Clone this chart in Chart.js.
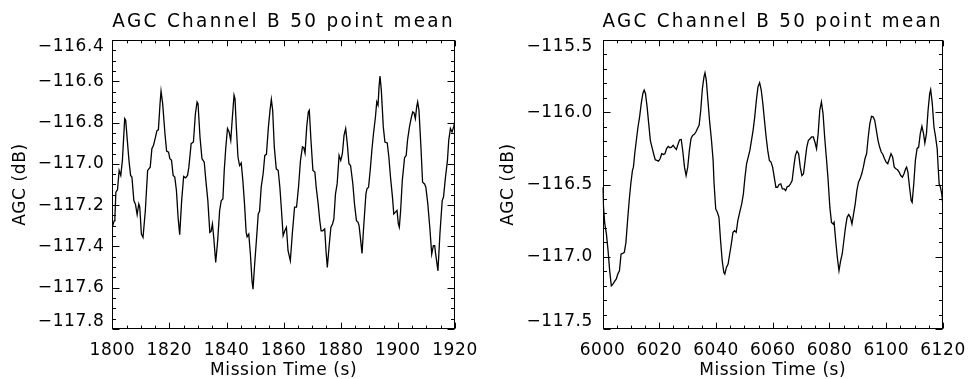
<!DOCTYPE html>
<html>
<head>
<meta charset="utf-8">
<script src="https://cdn.jsdelivr.net/npm/chart.js@4.4.1/dist/chart.umd.min.js"></script>
<style>
  html, body { margin: 0; padding: 0; background: #fff; }
  .wrap { display: flex; width: 976px; height: 379px; }
  .panel { width: 488px; height: 379px; }
</style>
</head>
<body>
<div class="wrap">
  <div class="panel"><canvas id="left" width="488" height="379"></canvas></div>
  <div class="panel"><canvas id="right" width="488" height="379"></canvas></div>
</div>
<script>
// left panel: 1800-1920 s
const leftTime = [
  1800.00, 1800.68, 1800.91, 1801.25, 1801.82, 1802.40, 1802.97, 1803.54, 1804.34, 1804.69,
  1805.26, 1805.83, 1806.41, 1806.87, 1807.55, 1808.13, 1808.70, 1809.27, 1809.62, 1810.19,
  1810.76, 1811.57, 1812.37, 1813.28, 1813.86, 1814.43, 1815.00, 1815.58, 1816.15, 1816.72,
  1817.07, 1817.64, 1818.44, 1819.02, 1819.70, 1820.16, 1820.74, 1821.31, 1821.88, 1822.46,
  1823.03, 1823.60, 1824.29, 1824.98, 1825.66, 1826.35, 1826.81, 1827.61, 1828.41, 1829.10,
  1829.68, 1830.02, 1830.71, 1831.40, 1832.20, 1832.77, 1833.46, 1834.15, 1834.60, 1835.06,
  1835.52, 1836.21, 1836.90, 1837.59, 1838.16, 1838.73, 1839.20, 1839.76, 1840.34, 1840.91,
  1841.48, 1842.06, 1842.63, 1842.97, 1843.43, 1844.01, 1844.58, 1845.15, 1845.72, 1846.30,
  1846.87, 1847.21, 1847.79, 1848.36, 1848.93, 1849.28, 1849.85, 1850.54, 1851.11, 1851.57,
  1852.14, 1852.83, 1853.40, 1853.98, 1854.67, 1855.24, 1855.70, 1856.16, 1856.73, 1857.42,
  1858.10, 1858.68, 1859.25, 1859.82, 1860.40, 1860.97, 1861.54, 1862.35, 1863.03, 1863.83,
  1864.52, 1865.21, 1865.90, 1866.59, 1867.05, 1867.50, 1868.08, 1868.65, 1868.99, 1869.57,
  1870.25, 1870.94, 1871.40, 1872.09, 1872.66, 1873.12, 1873.69, 1874.38, 1874.84, 1875.30,
  1875.99, 1876.56, 1877.13, 1877.59, 1878.16, 1878.74, 1879.42, 1880.00, 1880.57, 1881.15,
  1881.72, 1882.29, 1882.86, 1883.44, 1884.24, 1884.81, 1885.50, 1886.07, 1886.42, 1886.87,
  1887.45, 1888.02, 1888.82, 1889.17, 1889.74, 1890.31, 1890.89, 1891.46, 1892.15, 1892.61,
  1893.06, 1893.41, 1893.75, 1894.21, 1894.90, 1895.47, 1896.28, 1896.85, 1897.42, 1898.11,
  1898.57, 1899.14, 1899.71, 1900.17, 1900.52, 1900.97, 1901.55, 1902.35, 1902.92, 1903.38,
  1904.07, 1904.76, 1905.22, 1905.67, 1906.13, 1906.59, 1906.94, 1907.39, 1908.08, 1908.66,
  1909.34, 1909.80, 1910.49, 1911.18, 1911.86, 1912.44, 1912.90, 1913.24, 1914.04, 1914.73,
  1915.53, 1915.99, 1916.68, 1917.37, 1917.82, 1918.40, 1918.97, 1919.54, 1919.89
];
const leftAgc = [
  -117.308, -117.275, -117.259, -117.137, -117.126, -117.032, -117.056, -116.983, -116.781, -116.789,
  -116.886, -116.983, -117.056, -117.064, -117.178, -117.197, -117.246, -117.194, -117.210, -117.340,
  -117.356, -117.226, -117.032, -117.016, -116.927, -116.910, -116.878, -116.841, -116.834, -116.708,
  -116.648, -116.708, -116.854, -116.938, -116.943, -116.975, -116.983, -117.056, -117.064, -117.129,
  -117.259, -117.343, -117.178, -117.061, -117.068, -117.056, -117.016, -116.902, -116.894, -116.757,
  -116.700, -116.708, -116.870, -116.975, -116.992, -117.081, -117.178, -117.332, -117.327, -117.291,
  -117.356, -117.478, -117.372, -117.226, -117.178, -117.170, -117.032, -116.918, -116.829, -116.846,
  -116.886, -116.773, -116.667, -116.684, -116.821, -116.967, -117.008, -116.996, -117.081, -117.194,
  -117.332, -117.353, -117.340, -117.437, -117.567, -117.607, -117.486, -117.356, -117.243, -117.230,
  -117.113, -117.048, -116.959, -116.954, -116.821, -116.740, -116.688, -116.740, -116.918, -117.024,
  -117.032, -117.113, -117.226, -117.348, -117.324, -117.307, -117.421, -117.469, -117.340, -117.210,
  -117.210, -117.113, -116.983, -116.918, -116.922, -116.948, -116.821, -116.748, -116.740, -116.886,
  -117.032, -117.040, -117.113, -117.194, -117.275, -117.324, -117.324, -117.315, -117.421, -117.502,
  -117.388, -117.307, -117.291, -117.267, -117.145, -117.097, -116.959, -116.983, -116.951, -116.862,
  -116.829, -116.902, -116.999, -117.008, -117.097, -117.194, -117.275, -117.283, -117.299, -117.356,
  -117.434, -117.307, -117.145, -117.121, -117.113, -117.032, -116.935, -116.854, -116.773, -116.700,
  -116.716, -116.627, -116.575, -116.643, -116.821, -116.894, -116.899, -116.967, -117.064, -117.161,
  -117.243, -117.234, -117.226, -117.291, -117.307, -117.226, -117.081, -116.970, -116.959, -116.886,
  -116.821, -116.773, -116.748, -116.753, -116.781, -116.724, -116.700, -116.740, -116.918, -117.089,
  -117.097, -117.113, -117.194, -117.307, -117.437, -117.396, -117.396, -117.437, -117.518, -117.340,
  -117.178, -117.161, -117.064, -116.983, -116.886, -116.829, -116.846, -116.821, -116.797
];

// right panel: 6000-6120 s
const rightTime = [
  6000.00, 6000.36, 6000.81, 6001.39, 6001.96, 6002.53, 6003.11, 6003.68, 6004.25, 6004.83,
  6005.40, 6005.97, 6006.55, 6007.12, 6007.69, 6008.26, 6008.84, 6009.41, 6009.98, 6010.56,
  6010.90, 6011.36, 6011.93, 6012.51, 6013.08, 6013.65, 6014.23, 6014.68, 6015.14, 6015.72,
  6016.29, 6016.86, 6017.43, 6018.01, 6018.58, 6019.15, 6019.73, 6020.30, 6020.87, 6021.45,
  6022.02, 6022.59, 6023.17, 6023.74, 6024.31, 6024.89, 6025.46, 6026.03, 6026.61, 6027.18,
  6027.75, 6028.33, 6028.90, 6029.47, 6030.04, 6030.62, 6031.19, 6031.76, 6032.34, 6032.91,
  6033.48, 6034.05, 6034.63, 6035.20, 6035.77, 6036.12, 6036.58, 6037.15, 6037.72, 6038.41,
  6038.99, 6039.33, 6039.90, 6040.48, 6041.05, 6041.62, 6042.19, 6042.77, 6043.11, 6043.68,
  6044.26, 6044.83, 6045.40, 6045.98, 6046.55, 6047.12, 6047.70, 6048.50, 6049.07, 6049.65,
  6050.22, 6050.79, 6051.36, 6051.94, 6052.51, 6053.08, 6053.66, 6054.23, 6054.80, 6055.38,
  6055.95, 6056.52, 6057.09, 6057.67, 6058.24, 6058.81, 6059.39, 6059.96, 6060.53, 6061.11,
  6061.68, 6062.25, 6062.83, 6063.40, 6063.97, 6064.55, 6065.12, 6065.69, 6066.27, 6066.84,
  6067.41, 6067.98, 6068.56, 6069.13, 6069.70, 6070.28, 6070.85, 6071.42, 6072.00, 6072.57,
  6073.14, 6073.72, 6074.29, 6074.86, 6075.44, 6076.01, 6076.58, 6077.16, 6077.73, 6078.30,
  6078.88, 6079.45, 6080.13, 6080.71, 6081.28, 6081.63, 6082.20, 6082.77, 6083.35, 6083.92,
  6084.49, 6085.06, 6085.64, 6086.21, 6086.78, 6087.36, 6087.93, 6088.50, 6089.08, 6089.65,
  6090.22, 6090.79, 6091.37, 6091.94, 6092.51, 6093.09, 6093.66, 6094.23, 6094.81, 6095.38,
  6095.95, 6096.53, 6097.10, 6097.67, 6098.25, 6098.82, 6099.39, 6099.97, 6100.54, 6101.11,
  6101.68, 6102.26, 6102.83, 6103.40, 6103.98, 6104.55, 6105.12, 6105.70, 6106.27, 6106.84,
  6107.19, 6107.64, 6108.22, 6108.79, 6109.14, 6109.71, 6110.28, 6110.86, 6111.43, 6112.00,
  6112.58, 6113.15, 6113.61, 6114.18, 6114.75, 6115.33, 6115.67, 6116.24, 6116.82, 6117.39,
  6117.96, 6118.31, 6118.65, 6119.11, 6119.57, 6120.00
];
const rightAgc = [
  -116.519, -116.657, -116.773, -116.843, -116.958, -117.097, -117.201, -117.190, -117.171, -117.155,
  -117.120, -117.097, -116.981, -116.977, -116.970, -116.900, -116.750, -116.611, -116.495, -116.403,
  -116.380, -116.287, -116.194, -116.102, -116.032, -115.940, -115.870, -115.847, -115.870, -115.963,
  -116.079, -116.194, -116.241, -116.287, -116.329, -116.333, -116.338, -116.322, -116.287, -116.292,
  -116.287, -116.252, -116.236, -116.245, -116.241, -116.229, -116.245, -116.257, -116.222, -116.190,
  -116.188, -116.275, -116.380, -116.438, -116.380, -116.264, -116.183, -116.160, -116.153, -116.137,
  -116.113, -116.090, -115.986, -115.836, -115.755, -115.727, -115.778, -115.917, -116.056, -116.194,
  -116.333, -116.495, -116.669, -116.692, -116.727, -116.889, -117.028, -117.109, -117.120, -117.074,
  -117.051, -116.981, -116.912, -116.831, -116.819, -116.831, -116.750, -116.681, -116.634, -116.565,
  -116.449, -116.356, -116.310, -116.264, -116.194, -116.125, -116.032, -115.917, -115.824, -115.796,
  -115.847, -115.940, -116.056, -116.171, -116.264, -116.333, -116.345, -116.380, -116.449, -116.519,
  -116.519, -116.500, -116.495, -116.530, -116.530, -116.542, -116.514, -116.512, -116.495, -116.472,
  -116.380, -116.299, -116.269, -116.287, -116.380, -116.438, -116.426, -116.333, -116.241, -116.194,
  -116.183, -116.171, -116.171, -116.206, -116.252, -116.148, -115.986, -115.928, -116.009, -116.171,
  -116.310, -116.449, -116.657, -116.762, -116.773, -116.762, -116.889, -117.005, -117.097, -117.028,
  -116.981, -116.889, -116.796, -116.727, -116.708, -116.727, -116.773, -116.704, -116.634, -116.542,
  -116.484, -116.461, -116.426, -116.380, -116.322, -116.287, -116.171, -116.079, -116.028, -116.032,
  -116.056, -116.125, -116.194, -116.241, -116.275, -116.292, -116.322, -116.345, -116.356, -116.322,
  -116.287, -116.310, -116.380, -116.391, -116.398, -116.414, -116.438, -116.449, -116.426, -116.391,
  -116.380, -116.414, -116.519, -116.611, -116.623, -116.495, -116.333, -116.252, -116.241, -116.148,
  -116.097, -116.148, -116.213, -116.148, -115.986, -115.870, -115.843, -115.940, -116.102, -116.171,
  -116.252, -116.380, -116.495, -116.519, -116.565, -116.646
];

const leftXTicks = [1800, 1820, 1840, 1860, 1880, 1900, 1920];
const leftYTicks = [-117.8, -117.6, -117.4, -117.2, -117.0, -116.8, -116.6, -116.4];
const rightXTicks = [6000, 6020, 6040, 6060, 6080, 6100, 6120];
const rightYTicks = [-117.5, -117.0, -116.5, -116.0, -115.5];

const FONT = 'DejaVu Sans';

// title gets wide letter spacing, everything drawn after the datasets a small one
const spacing = {
  id: 'spacing',
  beforeDraw(chart) { chart.ctx.letterSpacing = '2.4px'; },
  beforeDatasetsDraw(chart) { chart.ctx.letterSpacing = '0.6px'; }
};

// closed box with inward major/minor ticks on all four sides
const frame = {
  id: 'frame',
  afterDraw(chart, args, opts) {
    const {ctx, chartArea: a, scales: {x, y}} = chart;
    const L = Math.round(a.left) + 0.5, R = Math.round(a.right) - 0.5;
    const T = Math.round(a.top) + 0.5, B = Math.round(a.bottom) - 0.5;
    ctx.save();
    ctx.strokeStyle = '#000';
    ctx.lineWidth = 1;
    ctx.strokeRect(L, T, R - L, B - T);
    ctx.beginPath();
    let n = Math.round((x.max - x.min) / opts.xMinorStep);
    for (let i = 0; i <= n; i++) {
      const px = Math.round(x.getPixelForValue(x.min + i * opts.xMinorStep)) + 0.5;
      const len = i % opts.xMinor === 0 ? 5.8 : 2.9;
      ctx.moveTo(px, B); ctx.lineTo(px, B - len);
      ctx.moveTo(px, T); ctx.lineTo(px, T + len);
    }
    n = Math.round((y.max - y.min) / opts.yMinorStep);
    for (let i = 0; i <= n; i++) {
      const py = Math.round(y.getPixelForValue(y.min + i * opts.yMinorStep)) + 0.5;
      const len = i % opts.yMinor === 0 ? 7 : 3.5;
      ctx.moveTo(L, py); ctx.lineTo(L + len, py);
      ctx.moveTo(R, py); ctx.lineTo(R - len, py);
    }
    ctx.stroke();
    ctx.restore();
  }
};

function yLabel(value, index, ticks) {
  const s = value.toFixed(1).replace('-', '\u2212');
  // end labels sit inside the frame, like the original
  if (index === 0) return [s, ''];
  if (index === ticks.length - 1) return ['', s];
  return s;
}

function makeChart(id, times, agc, xTicks, yTicks, frameOpts, box) {
  return new Chart(document.getElementById(id), {
    type: 'line',
    data: {
      datasets: [{
        data: times.map((t, i) => ({x: t, y: agc[i]})),
        borderColor: '#000',
        borderWidth: 1.3,
        pointRadius: 0,
        tension: 0
      }]
    },
    options: {
      responsive: false,
      animation: false,
      events: [],
      layout: {padding: {left: 0, right: box.right, top: 0, bottom: 0}},
      scales: {
        x: {
          type: 'linear',
          min: xTicks[0],
          max: xTicks[xTicks.length - 1],
          afterBuildTicks: s => { s.ticks = xTicks.map(v => ({value: v})); },
          afterFit: s => { s.height = 50; },
          grid: {display: false, drawTicks: false, z: 1},
          border: {display: false, z: 1},
          ticks: {
            z: 1, autoSkip: false, maxRotation: 0, padding: 11.4, color: '#000',
            font: {family: FONT, size: 17, lineHeight: 1.2},
            callback: v => String(v)
          },
          title: {
            display: true, text: 'Mission Time (s)', color: '#000',
            font: {family: FONT, size: 17, lineHeight: 1},
            padding: {top: 0, bottom: 0}
          }
        },
        y: {
          min: yTicks[0],
          max: yTicks[yTicks.length - 1],
          afterBuildTicks: s => { s.ticks = yTicks.map(v => ({value: v})); },
          afterFit: s => { s.width = box.left; },
          grid: {display: false, drawTicks: false, z: 1},
          border: {display: false, z: 1},
          ticks: {
            z: 1, autoSkip: false, padding: box.labelGap, color: '#000',
            font: {family: FONT, size: 17, lineHeight: 0.82},
            callback: yLabel
          },
          title: {
            display: true, text: 'AGC (dB)', color: '#000',
            font: {family: FONT, size: 17, lineHeight: 1},
            padding: {top: 11.6, bottom: 0}
          }
        }
      },
      plugins: {
        legend: {display: false},
        tooltip: {enabled: false},
        title: {
          display: true,
          text: 'AGC Channel B 50 point mean',
          fullSize: false,
          color: '#000',
          font: {family: FONT, size: 19, weight: 'normal', lineHeight: 1},
          padding: {top: 12.5, bottom: 8.5}
        },
        frame: frameOpts
      }
    },
    plugins: [spacing, frame]
  });
}

makeChart('left', leftTime, leftAgc, leftXTicks, leftYTicks,
  {xMinorStep: 5, xMinor: 4, yMinorStep: 0.05, yMinor: 4},
  {left: 112.3, right: 26.3, labelGap: 8});
makeChart('right', rightTime, rightAgc, rightXTicks, rightYTicks,
  {xMinorStep: 5, xMinor: 4, yMinorStep: 0.1, yMinor: 5},
  {left: 114.5, right: 24.7, labelGap: 9.5});
</script>
</body>
</html>
